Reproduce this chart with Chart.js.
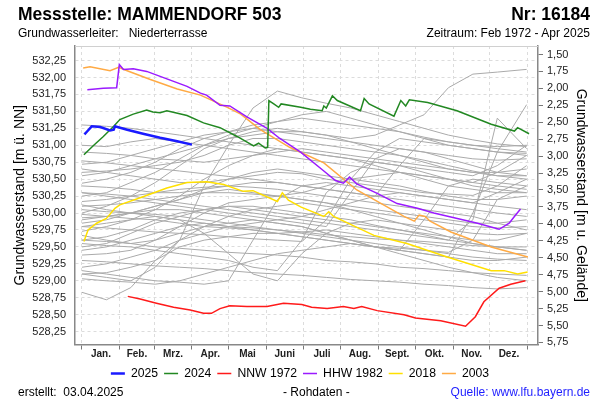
<!DOCTYPE html>
<html>
<head>
<meta charset="utf-8">
<script src="https://cdn.jsdelivr.net/npm/chart.js@4"></script>
<style>
  body { margin: 0; background: #fff; font-family: 'Liberation Sans', Arial, sans-serif; }
  #wrap { position: relative; width: 600px; height: 400px; overflow: hidden; }
  #chart { position: absolute; left: 0; top: 0; }
  .t { position: absolute; white-space: nowrap; color: #000; line-height: 1; }
</style>
</head>
<body>
<div id="wrap">
  <canvas id="chart" width="600" height="400"></canvas>
  <div class="t" style="left:18px; top:6px; font-size:17.5px; font-weight:bold;">Messstelle: MAMMENDORF 503</div>
  <div class="t" style="right:10px; top:6px; font-size:17.5px; font-weight:bold;">Nr: 16184</div>
  <div class="t" style="left:18px; top:27px; font-size:12px;">Grundwasserleiter:&nbsp;&nbsp; Niederterrasse</div>
  <div class="t" style="right:10px; top:27px; font-size:12px;">Zeitraum: Feb 1972 - Apr 2025</div>
  <div class="t" style="left:18px; top:386px; font-size:12px;">erstellt:&nbsp; 03.04.2025</div>
  <div class="t" style="left:283px; top:386px; font-size:12px;">- Rohdaten -</div>
  <div class="t" style="right:10px; top:386px; font-size:12px; color:#1e1eff;">Quelle: www.lfu.bayern.de</div>
</div>
<script>
// Achsen
const MONTH_NAMES = ['Jan.', 'Feb.', 'Mrz.', 'Apr.', 'Mai', 'Juni', 'Juli', 'Aug.', 'Sept.', 'Okt.', 'Nov.', 'Dez.'];
const MONTH_STARTS = [0, 31, 59, 90, 120, 151, 181, 212, 243, 273, 304, 334, 365];
const LEVEL_TICKS = [528.25, 528.5, 528.75, 529, 529.25, 529.5, 529.75, 530, 530.25, 530.5, 530.75, 531, 531.25, 531.5, 531.75, 532, 532.25];
const DEPTH_TICKS = [1.5, 1.75, 2, 2.25, 2.5, 2.75, 3, 3.25, 3.5, 3.75, 4, 4.25, 4.5, 4.75, 5, 5.25, 5.5, 5.75];
const GROUND = 533.84;

// Hervorgehobene Jahre (Tag im Jahr / Wasserstand m ü. NN)
const DAYS_2025 = [2, 4, 8, 15, 23, 26, 27, 37, 50, 64, 78, 90];
const LEVELS_2025 = [531.16, 531.2, 531.28, 531.27, 531.22, 531.23, 531.28, 531.23, 531.17, 531.11, 531.06, 531.01];

const DAYS_2024 = [1.6, 9, 17.5, 26, 31, 42, 53, 58, 64, 69.5, 86, 99.5, 113, 127, 140.5, 144.6, 150, 152, 153, 157, 161, 163, 179, 187, 196.6, 198, 200, 205, 209, 228, 231, 235, 255.4, 261, 265, 268, 283, 307, 335, 354, 356.6, 366];
const LEVELS_2024 = [530.86, 530.99, 531.13, 531.28, 531.38, 531.46, 531.52, 531.49, 531.48, 531.51, 531.44, 531.33, 531.26, 531.13, 530.99, 531.03, 530.96, 530.97, 531.66, 531.61, 531.56, 531.61, 531.56, 531.53, 531.51, 531.58, 531.55, 531.73, 531.66, 531.51, 531.69, 531.61, 531.43, 531.66, 531.58, 531.67, 531.63, 531.51, 531.31, 531.21, 531.26, 531.17];

const DAYS_NNW = [37.5, 47.6, 61, 75, 88.6, 99.5, 106, 113, 121, 135, 151.5, 165, 180, 188, 200.7, 214, 222.6, 229, 241.7, 263.6, 273, 293.7, 314, 322, 329, 341.5, 351, 363];
const LEVELS_NNW = [528.77, 528.73, 528.67, 528.61, 528.57, 528.52, 528.52, 528.59, 528.63, 528.62, 528.62, 528.67, 528.65, 528.61, 528.59, 528.62, 528.59, 528.62, 528.56, 528.5, 528.45, 528.41, 528.33, 528.47, 528.69, 528.89, 528.95, 529.0];

const DAYS_HHW = [4.4, 17.5, 28.4, 30.6, 34, 42, 53, 69.5, 86, 97, 102, 113, 121, 135, 151.5, 162, 170.6, 179, 198, 207.5, 214, 219, 225, 241.7, 258, 274.6, 288, 304.6, 323.8, 341.5, 349.7, 354, 359];
const LEVELS_HHW = [531.82, 531.84, 531.85, 532.19, 532.12, 532.13, 532.09, 531.98, 531.87, 531.77, 531.74, 531.59, 531.58, 531.42, 531.25, 531.1, 531.0, 530.9, 530.62, 530.48, 530.44, 530.53, 530.43, 530.29, 530.14, 530.07, 530.0, 529.93, 529.85, 529.76, 529.85, 529.95, 530.06];

const DAYS_2018 = [1.6, 5, 12, 20, 27, 31, 50, 69.5, 86, 102, 116, 132, 140, 160, 164, 169, 179, 198, 202, 206, 239, 266, 299, 335, 345.6, 356.6, 364.8];
const LEVELS_2018 = [529.58, 529.75, 529.85, 529.92, 530.07, 530.12, 530.24, 530.37, 530.45, 530.46, 530.42, 530.32, 530.33, 530.17, 530.3, 530.19, 530.09, 529.95, 530.02, 529.95, 529.67, 529.55, 529.35, 529.15, 529.15, 529.1, 529.13];

const DAYS_2003 = [1, 6.6, 23, 30, 37, 56, 78, 97, 119, 130, 146, 170, 198, 225, 263.6, 272, 276, 281, 285, 302, 335, 365];
const LEVELS_2003 = [532.14, 532.16, 532.1, 532.15, 532.1, 531.97, 531.83, 531.74, 531.56, 531.46, 531.23, 530.97, 530.74, 530.34, 529.95, 529.88, 529.97, 529.95, 529.88, 529.72, 529.5, 529.35];

// übrige Jahre (grau)
const GRAY_DAYS = [0, 20, 40, 60, 80, 100, 120, 140, 160, 180, 200, 220, 240, 260, 280, 300, 320, 340, 364];
const g01 = [530.55, 530.6, 530.7, 530.8, 530.9, 531.0, 531.1, 531.15, 531.2, 531.2, 531.15, 531.1, 531.15, 531.3, 531.45, 531.85, 532.05, 532.08, 532.12];
const g02 = [529.1, 529.05, 529.0, 529.2, 529.6, 530.4, 531.0, 531.55, 531.8, 531.7, 531.62, 531.55, 531.45, 531.35, 531.25, 531.15, 531.08, 531.02, 530.98];
const g03 = [530.3, 530.28, 530.25, 530.2, 530.15, 530.1, 530.05, 530.0, 529.95, 529.9, 529.85, 529.8, 529.75, 529.7, 529.65, 529.6, 529.9, 531.4, 530.95];
const g04 = [529.9, 529.95, 530.0, 530.05, 530.05, 530.0, 529.95, 529.9, 529.85, 529.8, 529.7, 529.6, 529.5, 529.45, 529.4, 529.35, 530.0, 530.9, 531.6];
const g05 = [531.3, 531.28, 531.25, 531.2, 531.15, 531.1, 531.05, 531.0, 530.95, 530.9, 530.85, 530.8, 530.75, 530.7, 530.65, 530.6, 530.55, 530.7, 531.0];
const g06 = [530.77, 530.74, 530.7, 530.66, 530.62, 530.58, 530.54, 530.5, 530.45, 530.4, 530.35, 530.3, 530.25, 530.2, 530.15, 530.1, 530.05, 530.0, 529.95];
const g07 = [530.72, 530.75, 530.85, 530.95, 531.05, 531.15, 531.2, 531.25, 531.2, 531.15, 531.1, 531.05, 531.0, 530.95, 530.9, 530.85, 530.8, 530.78, 530.8];
const g08 = [530.44, 530.5, 530.6, 530.75, 530.95, 531.1, 531.2, 531.3, 531.35, 531.4, 531.35, 531.3, 531.25, 531.2, 531.12, 531.05, 531.0, 530.98, 531.0];
const g09 = [530.17, 530.2, 530.25, 530.3, 530.35, 530.38, 530.4, 530.38, 530.35, 530.3, 530.25, 530.2, 530.15, 530.1, 530.05, 530.0, 529.95, 529.85, 529.75];
const g10 = [530.12, 530.05, 530.0, 529.95, 529.9, 529.85, 529.8, 529.78, 529.75, 529.72, 529.68, 529.65, 529.62, 529.6, 529.58, 529.55, 529.52, 529.5, 529.5];
const g11 = [530.0, 530.1, 530.25, 530.45, 530.7, 530.95, 531.1, 531.2, 531.25, 531.2, 531.15, 531.05, 530.95, 530.85, 530.75, 530.65, 530.6, 530.6, 530.65];
const g12 = [529.93, 529.95, 530.0, 530.1, 530.2, 530.3, 530.35, 530.3, 530.25, 530.2, 530.15, 530.1, 530.05, 530.0, 529.95, 529.9, 529.85, 529.85, 529.9];
const g13 = [529.73, 529.8, 529.9, 530.05, 530.25, 530.5, 530.7, 530.85, 530.95, 530.9, 530.85, 530.8, 530.7, 530.6, 530.5, 530.4, 530.35, 530.3, 530.3];
const g14 = [529.67, 529.6, 529.55, 529.5, 529.48, 529.45, 529.42, 529.4, 529.38, 529.35, 529.3, 529.28, 529.25, 529.2, 529.18, 529.15, 529.12, 529.1, 529.08];
const g15 = [529.5, 529.55, 529.7, 529.85, 529.95, 530.05, 530.1, 530.05, 530.0, 529.95, 529.9, 529.85, 529.8, 529.75, 529.7, 529.65, 529.6, 529.6, 529.7];
const g16 = [529.38, 529.4, 529.45, 529.6, 529.8, 530.0, 530.15, 530.2, 530.25, 530.3, 530.4, 530.5, 530.55, 530.6, 530.55, 530.5, 530.45, 530.6, 530.85];
const g17 = [529.2, 529.25, 529.35, 529.45, 529.6, 529.7, 529.8, 529.85, 529.9, 529.95, 530.05, 530.15, 530.25, 530.3, 530.25, 530.2, 530.15, 530.3, 530.5];
const g18 = [529.1, 529.12, 529.2, 529.3, 529.5, 529.6, 529.65, 529.7, 529.7, 529.72, 529.75, 529.7, 529.65, 529.6, 529.55, 529.5, 529.45, 529.4, 529.4];
const g19 = [529.03, 529.0, 528.98, 528.95, 529.0, 529.1, 529.2, 529.3, 529.4, 529.45, 529.5, 529.55, 529.5, 529.45, 529.4, 529.35, 529.3, 529.3, 529.35];
const g20 = [528.83, 528.72, 528.9, 529.3, 529.6, 529.8, 529.95, 530.05, 530.1, 530.15, 530.1, 530.05, 530.0, 529.95, 529.9, 529.85, 529.8, 529.78, 529.8];
const g21 = [529.8, 529.85, 529.9, 529.95, 529.9, 529.7, 529.4, 529.1, 529.0, 529.4, 529.7, 529.85, 529.9, 529.85, 529.8, 529.75, 529.7, 529.68, 529.7];
const g22 = [529.55, 529.52, 529.5, 529.45, 529.4, 529.35, 529.3, 529.2, 529.15, 529.6, 530.3, 530.6, 530.75, 530.7, 530.6, 530.5, 530.4, 530.35, 530.3];
const g23 = [530.6, 530.62, 530.65, 530.7, 530.75, 530.85, 531.0, 531.1, 531.1, 531.05, 531.0, 530.95, 530.9, 530.85, 530.78, 530.7, 530.62, 530.55, 530.5];
const g24 = [530.05, 530.02, 530.0, 529.98, 529.95, 529.9, 529.85, 529.8, 529.75, 529.7, 529.65, 529.6, 529.55, 529.5, 529.45, 529.4, 529.35, 529.32, 529.3];
const g25 = [529.3, 529.28, 529.25, 529.22, 529.2, 529.18, 529.15, 529.12, 529.1, 529.08, 529.05, 529.02, 529.0, 528.98, 528.95, 528.93, 528.9, 528.88, 528.9];
const g26 = [530.3, 530.25, 530.2, 530.15, 530.1, 530.05, 530.0, 529.95, 529.9, 529.85, 529.8, 530.3, 530.8, 530.95, 530.9, 530.8, 530.7, 530.6, 530.55];
const g27 = [529.85, 529.9, 530.0, 530.1, 530.2, 530.35, 530.5, 530.6, 530.65, 530.6, 530.55, 530.5, 530.45, 530.4, 530.32, 530.25, 530.2, 530.2, 530.25];
const g28 = [529.6, 529.58, 529.55, 529.6, 529.7, 529.8, 529.85, 529.9, 529.85, 529.8, 529.7, 529.6, 529.5, 529.45, 529.9, 530.4, 530.5, 530.45, 530.4];
const g29 = [530.9, 530.88, 530.85, 530.8, 530.78, 530.75, 530.8, 530.85, 530.9, 530.95, 530.9, 530.85, 530.8, 530.75, 530.7, 530.65, 530.6, 530.55, 530.55];
const g30 = [529.45, 529.5, 529.6, 529.7, 529.8, 529.85, 529.8, 529.75, 529.7, 529.65, 529.6, 529.55, 529.5, 529.4, 529.3, 529.2, 529.12, 529.05, 529.0];
const g31 = [530.4, 530.38, 530.35, 530.3, 530.3, 530.35, 530.4, 530.45, 530.45, 530.4, 530.35, 530.3, 530.25, 530.7, 531.1, 531.05, 531.0, 530.95, 530.9];
const g32 = [531.0, 530.98, 531.05, 531.1, 531.05, 531.0, 530.95, 530.9, 530.85, 530.8, 530.75, 530.7, 530.65, 530.6, 530.55, 530.5, 530.45, 530.4, 530.35];
const g33 = [529.15, 529.1, 529.05, 529.0, 528.98, 528.95, 529.0, 529.6, 530.2, 530.4, 530.45, 530.4, 530.35, 530.3, 530.25, 530.2, 530.15, 530.1, 530.05];
const g34 = [530.25, 530.3, 530.45, 530.6, 530.8, 531.0, 531.15, 531.25, 531.35, 531.45, 531.5, 531.4, 531.3, 531.2, 531.1, 531.0, 530.95, 530.9, 530.88];
const g35 = [529.98, 529.95, 529.92, 529.9, 529.85, 529.8, 529.78, 529.75, 529.7, 529.65, 529.6, 529.55, 529.5, 529.48, 529.45, 529.42, 529.6, 530.2, 530.4];
const g36 = [530.1, 530.12, 530.15, 530.2, 530.25, 530.3, 530.3, 530.28, 530.25, 530.2, 530.15, 530.05, 529.95, 529.85, 529.75, 529.65, 529.55, 529.5, 529.45];
const g37 = [529.6, 529.65, 529.75, 529.9, 530.0, 530.05, 530.1, 530.1, 530.05, 530.0, 529.95, 529.9, 529.82, 529.75, 529.68, 529.6, 529.55, 529.5, 529.45];
const g38 = [530.65, 530.6, 530.55, 530.5, 530.45, 530.45, 530.5, 530.55, 530.6, 530.58, 530.5, 530.45, 530.4, 530.35, 530.3, 530.28, 530.26, 530.4, 530.7];
const g39 = [529.8, 529.78, 529.75, 529.72, 529.7, 529.68, 529.65, 529.62, 529.6, 529.58, 529.9, 530.5, 530.9, 531.1, 531.05, 531.0, 530.95, 530.9, 530.85];
const GRAY_SERIES = [g01, g02, g03, g04, g05, g06, g07, g08, g09, g10, g11, g12, g13, g14, g15, g16, g17, g18, g19, g20,
    g21, g22, g23, g24, g25, g26, g27, g28, g29, g30, g31, g32, g33, g34, g35, g36, g37, g38, g39];

function toPoints(days, levels) {
    return days.map((d, i) => ({ x: d, y: levels[i] }));
}

function fmt(v) {
    return v.toFixed(2).replace('.', ',');
}

const midMonths = MONTH_STARTS.slice(0, 12).map((s, i) => (s + MONTH_STARTS[i + 1]) / 2);

const highlight = [
    { label: '2025', days: DAYS_2025, levels: LEVELS_2025, color: '#1a1aff', width: 2.5 },
    { label: '2024', days: DAYS_2024, levels: LEVELS_2024, color: '#228822', width: 1.5 },
    { label: 'NNW 1972', days: DAYS_NNW, levels: LEVELS_NNW, color: '#ff1a1a', width: 1.5 },
    { label: 'HHW 1982', days: DAYS_HHW, levels: LEVELS_HHW, color: '#9a1aff', width: 1.5 },
    { label: '2018', days: DAYS_2018, levels: LEVELS_2018, color: '#ffe000', width: 1.5 },
    { label: '2003', days: DAYS_2003, levels: LEVELS_2003, color: '#ffaa44', width: 1.5 }
];

const datasets = highlight.map(h => ({
    label: h.label,
    data: toPoints(h.days, h.levels),
    borderColor: h.color,
    backgroundColor: h.color,
    borderWidth: h.width,
    pointRadius: 0,
    tension: 0
}));

GRAY_SERIES.forEach((levels, i) => {
    datasets.push({
        label: 'gray' + i,
        data: toPoints(GRAY_DAYS, levels),
        borderColor: '#aaaaaa',
        borderWidth: 1,
        pointRadius: 0,
        tension: 0
    });
});

// dünne Linie oben am Diagramm
const topFrame = {
    id: 'topFrame',
    afterDraw(chart) {
        const { ctx, chartArea } = chart;
        ctx.save();
        ctx.strokeStyle = '#d0d0d0';
        ctx.lineWidth = 1;
        ctx.beginPath();
        ctx.moveTo(chartArea.left, chartArea.top + 0.5);
        ctx.lineTo(chartArea.right, chartArea.top + 0.5);
        ctx.stroke();
        ctx.restore();
    }
};

Chart.defaults.font.family = "'Liberation Sans', Arial, sans-serif";
Chart.defaults.color = '#222';

new Chart(document.getElementById('chart'), {
    type: 'line',
    data: { datasets: datasets },
    plugins: [topFrame],
    options: {
        responsive: false,
        animation: false,
        layout: { padding: { top: 46, bottom: 10.3, left: 0, right: 0 } },
        plugins: {
            tooltip: { enabled: false },
            legend: {
                position: 'bottom',
                labels: {
                    filter: item => item.datasetIndex < 6,
                    usePointStyle: true,
                    pointStyle: 'line',
                    pointStyleWidth: 14,
                    padding: 6,
                    color: '#000',
                    font: { size: 12.2 }
                }
            }
        },
        scales: {
            x: {
                type: 'linear',
                min: -5.7,
                max: 373.3,
                afterBuildTicks: s => {
                    s.ticks = MONTH_STARTS.concat(midMonths).sort((a, b) => a - b).map(v => ({ value: v }));
                },
                afterFit: s => { s.height = 17; },
                ticks: {
                    autoSkip: false,
                    maxRotation: 0,
                    padding: -1,
                    font: { size: 10, weight: 'bold' },
                    callback: v => {
                        const i = midMonths.indexOf(v);
                        return i >= 0 ? MONTH_NAMES[i] : '';
                    }
                },
                grid: {
                    color: c => MONTH_STARTS.includes(c.tick && c.tick.value) ? '#dcdcdc' : 'rgba(0,0,0,0)',
                    tickColor: c => MONTH_STARTS.includes(c.tick && c.tick.value) ? '#777' : 'rgba(0,0,0,0)',
                    tickLength: 5
                },
                border: { color: '#888', width: 1.5, dash: [3, 3] }
            },
            y: {
                position: 'left',
                min: 528.06,
                max: 532.465,
                afterBuildTicks: s => { s.ticks = LEVEL_TICKS.map(v => ({ value: v })); },
                afterFit: s => { s.width = 75; },
                ticks: { padding: 9, font: { size: 11 }, callback: v => fmt(v) },
                grid: { color: '#dcdcdc', drawTicks: false },
                border: { color: '#888', width: 1.5, dash: [3, 3] },
                title: {
                    display: true,
                    text: 'Grundwasserstand [m ü. NN]',
                    color: '#000',
                    font: { size: 14 },
                    padding: { top: 12, bottom: 0 }
                }
            },
            y2: {
                position: 'right',
                reverse: true,
                min: GROUND - 532.465,
                max: GROUND - 528.06,
                afterBuildTicks: s => { s.ticks = DEPTH_TICKS.map(v => ({ value: v })); },
                afterFit: s => { s.width = 62; },
                ticks: { padding: 4, font: { size: 11 }, callback: v => fmt(v) },
                grid: { drawOnChartArea: false, tickLength: 5, tickColor: '#777' },
                border: { color: '#888', width: 1.5 },
                title: {
                    display: true,
                    text: 'Grundwasserstand [m u. Gelände]',
                    color: '#000',
                    font: { size: 14 },
                    padding: { top: 11, bottom: 0 }
                }
            }
        }
    }
});
</script>
</body>
</html>
